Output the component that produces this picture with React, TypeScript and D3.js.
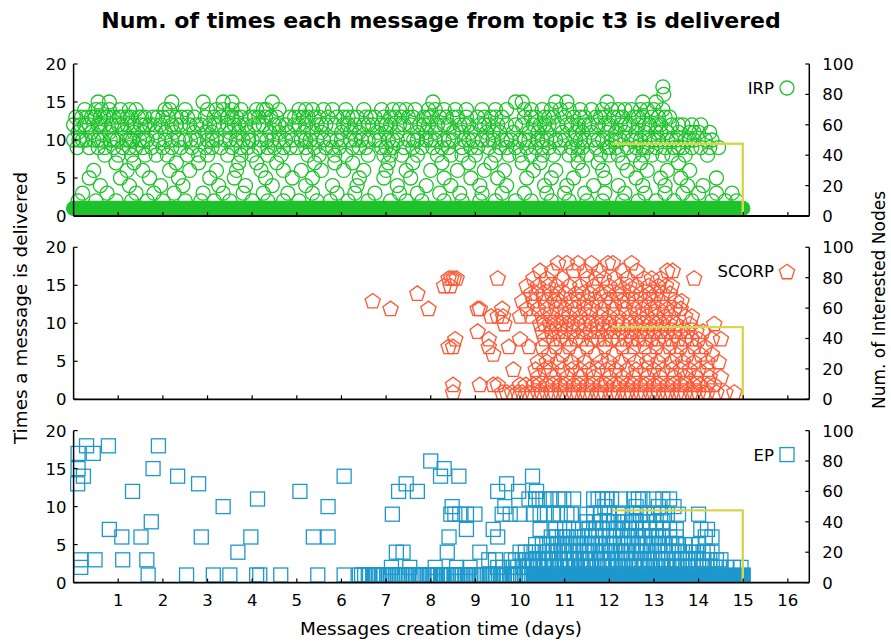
import React from "react";
import * as d3 from "d3";

const WIDTH = 891;
const HEIGHT = 642;
const FONT = "'DejaVu Sans', Verdana, sans-serif";

const titleText = "Num. of times each message from topic t3 is delivered";
const xLabel = "Messages creation time (days)";
const yLabelLeft = "Times a message is delivered";
const yLabelRight = "Num. of Interested Nodes";

const dayTicks = [1, 2, 3, 4, 5, 6, 7, 8, 9, 10, 11, 12, 13, 14, 15, 16];
const countTicks = [0, 5, 10, 15, 20];
const nodeTicks = [0, 20, 40, 60, 80, 100];

const protocolNames = ["IRP", "SCORP", "EP"];
const protocolColors = ["#1ec22b", "#ff5733", "#1e98cc"];
const protocolMarkers = ["circle", "pentagon", "square"];

// [times delivered, creation days of the messages delivered that many times]
type Row = [number, number[]];

const irpRows: Row[] = [
  [17, [13.2]],
  [16, [13.22]],
  [15, [0.55, 0.8, 2.2, 2.9, 3.35, 3.55, 4.45, 8.05, 9.9, 10.05, 10.8, 11.05, 11.95, 12.75, 13.05]],
  [14, [0.25, 0.5, 0.62, 1.05, 1.4, 2.05, 2.15, 3.2, 3.35, 3.75, 4.1, 4.25, 4.32, 5.05, 5.35, 5.6, 5.8, 6.9, 7.15, 7.45, 7.65, 7.95, 8.3, 8.55, 9.15, 9.45, 10.25, 10.5, 10.9, 11.35, 11.6, 12.2, 12.5, 12.85, 13.2,
    0.8, 1.25, 2.5, 3.0, 3.55, 4.6, 5.2, 6.1, 6.5, 7.3, 8.1, 8.8, 9.7, 10.1, 10.7, 11.1, 11.85, 12.05, 12.35, 12.7, 13.0]],
  [13, [0.05, 0.18, 0.3, 0.48, 0.6, 0.75, 0.9, 1.1, 1.28, 1.45, 1.6, 1.78, 2.0, 2.12, 2.3, 2.55, 2.95, 3.15, 3.3, 3.55, 3.75, 3.95, 4.15, 4.3, 4.55, 4.85, 5.05, 5.25, 5.5, 5.7, 5.9, 6.15, 6.35, 6.55, 6.75, 6.95, 7.2, 7.35, 7.6, 7.85, 8.0, 8.2, 8.35, 8.6, 8.8, 9.05, 9.2, 9.6, 10.1, 10.35, 10.55, 10.75, 11.0, 11.2, 11.45, 11.7, 11.9, 12.1, 12.3, 12.55, 12.75, 12.95, 13.1, 13.35,
    0.4, 0.68, 1.02, 1.2, 1.52, 1.88, 2.42, 2.7, 3.45, 3.65, 4.05, 4.42, 4.95, 5.15, 5.4, 6.05, 6.25, 6.65, 7.1, 7.5, 7.95, 8.5, 9.35, 9.45, 10.25, 10.65, 11.35, 11.8, 12.2, 12.65, 13.25]],
  [12, [0.0, 0.15, 0.35, 0.55, 0.7, 0.85, 1.0, 1.2, 1.35, 1.5, 1.7, 1.95, 2.2, 2.4, 2.6, 2.85, 3.05, 3.25, 3.45, 3.6, 3.85, 4.05, 4.25, 4.5, 4.75, 4.95, 5.2, 5.45, 5.65, 5.85, 6.05, 6.3, 6.5, 6.7, 6.9, 7.1, 7.3, 7.55, 7.75, 7.95, 8.15, 8.4, 8.65, 8.85, 9.1, 9.3, 9.7, 10.05, 10.3, 10.45, 10.65, 10.85, 11.05, 11.3, 11.55, 11.75, 12.0, 12.25, 12.45, 12.65, 12.9, 13.15, 13.4, 13.65, 14.05,
    0.25, 0.6, 1.08, 1.6, 1.82, 2.3, 2.75, 3.15, 3.7, 4.15, 4.6, 5.05, 5.55, 6.15, 6.6, 7.0, 7.4, 7.85, 8.3, 8.75, 9.2, 9.5, 9.9, 10.55, 11.15, 11.45, 11.9, 12.35, 12.8, 13.05, 13.55, 13.85]],
  [11, [0.1, 0.4, 0.8, 1.15, 1.55, 1.85, 2.25, 2.7, 3.1, 3.5, 3.9, 4.4, 4.8, 5.15, 5.55, 6.0, 6.4, 6.8, 7.25, 7.7, 8.1, 8.5, 8.9, 9.25, 9.55, 9.85, 10.2, 10.6, 10.95, 11.25, 11.6, 11.95, 12.35, 12.6, 12.8, 13.05, 13.3, 13.55, 13.8, 14.0, 14.25,
    0.6, 1.35, 2.05, 2.95, 3.7, 4.6, 5.35, 6.2, 7.0, 7.9, 8.7, 9.4, 10.4, 11.4, 12.15, 13.15, 13.9]],
  [10, [0.0, 0.12, 0.28, 0.45, 0.65, 0.82, 0.98, 1.18, 1.32, 1.48, 1.65, 1.9, 2.05, 2.35, 2.5, 2.75, 3.0, 3.2, 3.4, 3.65, 3.8, 4.0, 4.2, 4.45, 4.6, 4.9, 5.1, 5.3, 5.6, 5.75, 6.0, 6.2, 6.45, 6.6, 6.85, 7.05, 7.25, 7.5, 7.7, 7.9, 8.1, 8.3, 8.5, 8.75, 8.95, 9.15, 9.4, 9.6, 9.8, 10.0, 10.2, 10.4, 10.6, 10.8, 11.0, 11.25, 11.45, 11.65, 11.85, 12.05, 12.25, 12.5, 12.7, 12.9, 13.1, 13.3, 13.5, 13.7, 13.9, 14.15, 14.3,
    0.2, 0.55, 0.9, 1.25, 1.56, 2.2, 2.62, 3.1, 3.5, 3.92, 4.33, 4.75, 5.2, 5.45, 5.9, 6.32, 6.75, 7.15, 7.62, 8.0, 8.4, 8.85, 9.28, 9.7, 10.1, 10.5, 10.9, 11.35, 11.75, 12.15, 12.6, 13.0, 13.4, 13.8]],
  [9, [0.08, 0.35, 0.55, 0.9, 1.1, 1.4, 1.75, 2.0, 2.4, 2.65, 2.95, 3.3, 3.55, 3.9, 4.15, 4.5, 4.7, 5.0, 5.4, 5.65, 5.95, 6.25, 6.55, 6.9, 7.15, 7.4, 7.8, 8.05, 8.4, 8.7, 9.05, 9.3, 9.55, 9.9, 10.15, 10.35, 10.65, 10.9, 11.15, 11.4, 11.7, 11.95, 12.15, 12.4, 12.6, 12.85, 13.05, 13.25, 13.45, 13.65, 13.85, 14.05, 14.25, 14.45,
    0.7, 1.25, 1.55, 2.2, 3.1, 3.75, 4.35, 4.85, 5.2, 5.8, 6.4, 7.0, 7.6, 8.25, 8.9, 9.7, 10.5, 11.3, 12.0, 12.75, 13.55]],
  [8, [0.7, 1.0, 1.3, 1.6, 2.1, 2.55, 3.0, 3.45, 3.75, 4.35, 4.65, 5.25, 5.5, 6.1, 6.6, 6.95, 7.35, 7.7, 8.15, 8.45, 9.0, 9.45, 9.75, 10.25, 10.5, 10.75, 11.1, 11.5, 11.8, 12.2, 12.55, 12.95, 13.4, 13.7, 14.2,
    1.85, 2.8, 4.0, 5.85, 7.1, 8.7, 10.0, 11.3, 12.0, 12.75, 13.2]],
  [7, [0.95, 1.35, 2.3, 2.8, 3.7, 4.1, 4.55, 5.4, 5.85, 6.25, 7.05, 7.6, 8.25, 8.85, 9.35, 10.05, 10.45, 11.3, 11.75, 12.3, 12.7, 13.55]],
  [6, [0.45, 1.2, 1.55, 2.15, 2.6, 3.2, 3.65, 4.2, 4.7, 5.1, 5.55, 6.05, 6.5, 7.0, 7.45, 8.0, 8.6, 9.2, 9.65, 10.3, 10.8, 11.4, 11.85, 12.4, 12.85, 13.3, 13.8]],
  [5, [0.35, 1.05, 1.7, 2.35, 3.05, 3.6, 4.3, 4.9, 5.35, 6.4, 6.95, 7.55, 8.3, 8.9, 9.5, 10.15, 10.7, 11.2, 11.9, 12.6, 13.15, 13.6, 14.4]],
  [4, [0.6, 1.25, 1.95, 2.45, 3.25, 3.85, 4.45, 5.2, 5.8, 6.35, 7.25, 7.9, 8.45, 9.1, 9.7, 10.55, 11.05, 11.65, 12.2, 12.75, 13.25, 13.75, 14.1]],
  [3, [0.2, 0.75, 1.4, 1.8, 2.25, 2.9, 3.35, 3.8, 4.25, 4.8, 5.35, 5.9, 6.3, 6.75, 7.3, 7.7, 8.2, 8.65, 9.15, 9.6, 10.1, 10.6, 11.0, 11.45, 11.9, 12.35, 12.8, 13.25, 13.65, 14.0, 14.4, 14.75]],
  [2, [0.1, 0.5, 0.95, 1.3, 1.65, 2.0, 2.5, 2.85, 3.15, 3.5, 4.0, 4.35, 4.7, 5.05, 5.45, 5.75, 6.15, 6.6, 7.1, 7.45, 7.8, 8.3, 8.7, 9.1, 9.45, 9.9, 10.25, 10.7, 11.1, 11.5, 11.85, 12.3, 12.65, 13.05, 13.45, 13.85, 14.3, 14.6, 14.85]],
];

const scorpRows: Row[] = [
  [18, [10.85, 11.05, 11.3, 11.6, 11.97, 12.08, 12.5]],
  [17, [10.45, 10.72, 11.2, 11.45, 11.78, 12.3, 12.62, 13.3, 13.42]],
  [16, [8.4, 8.46, 8.52, 8.58, 9.5, 10.3, 10.6, 10.95, 11.5, 11.7, 11.88, 12.12, 12.4, 12.78, 12.95, 13.15, 13.9]],
  [15, [8.3, 8.44, 10.15, 10.4, 10.63, 10.82, 11.1, 11.35, 11.65, 12.0, 12.22, 12.45, 12.6, 12.88, 13.1, 13.27, 13.4]],
  [14, [7.7, 10.25, 10.37, 10.52, 10.7, 10.85, 11.02, 11.25, 11.4, 11.57, 11.8, 11.95, 12.17, 12.3, 12.52, 12.7, 12.9, 13.06, 13.2, 13.36]],
  [13, [6.7, 10.05, 10.3, 10.55, 10.77, 10.9, 11.15, 11.32, 11.5, 11.72, 11.9, 12.05, 12.27, 12.4, 12.6, 12.8, 13.0, 13.17, 13.5, 13.62]],
  [12, [7.1, 7.95, 9.05, 9.1, 9.6, 10.15, 10.4, 10.6, 10.82, 11.0, 11.22, 11.45, 11.6, 11.85, 12.1, 12.35, 12.57, 12.75, 12.95, 13.1, 13.3, 13.47, 13.6]],
  [11, [9.35, 9.5, 9.62, 10.0, 10.25, 10.5, 10.7, 10.95, 11.1, 11.35, 11.55, 11.8, 12.0, 12.2, 12.45, 12.67, 12.85, 13.05, 13.25, 13.4, 13.7, 13.85]],
  [10, [9.65, 10.45, 10.55, 10.67, 10.8, 10.92, 11.05, 11.17, 11.3, 11.45, 11.6, 11.72, 11.85, 12.0, 12.15, 12.3, 12.47, 12.6, 12.75, 12.9, 13.05, 13.2, 13.35, 13.5, 13.8, 14.35]],
  [9, [9.05, 10.5, 10.7, 10.87, 11.0, 11.2, 11.4, 11.57, 11.75, 11.95, 12.1, 12.3, 12.5, 12.7, 12.85, 13.0, 13.15, 13.3, 13.47, 13.6, 13.75, 13.95, 14.1]],
  [8, [8.55, 9.3, 10.0, 10.55, 10.75, 10.9, 11.05, 11.25, 11.4, 11.6, 11.75, 11.9, 12.05, 12.2, 12.37, 12.5, 12.65, 12.8, 12.95, 13.1, 13.25, 13.4, 13.55, 13.7, 13.85, 14.0, 14.3, 14.5]],
  [7, [8.4, 8.5, 9.3, 9.75, 10.2, 10.5, 10.8, 11.1, 11.5, 11.9, 12.3, 12.55, 12.8, 13.05, 13.35, 13.6, 13.9, 14.15]],
  [6, [9.4, 10.65, 10.95, 11.3, 11.7, 12.1, 12.45, 12.9, 13.2, 13.5, 13.75, 14.05, 14.3]],
  [5, [10.4, 10.6, 10.85, 11.15, 11.45, 11.8, 12.0, 12.25, 12.6, 12.85, 13.1, 13.4, 13.65, 13.9, 14.2, 14.45]],
  [4, [9.85, 10.35, 10.55, 10.7, 10.95, 11.15, 11.35, 11.55, 11.75, 11.95, 12.15, 12.4, 12.6, 12.8, 13.0, 13.2, 13.4, 13.6, 13.8, 14.0, 14.2]],
  [3, [10.4, 10.75, 11.05, 11.35, 11.65, 12.0, 12.3, 12.55, 12.85, 13.15, 13.45, 13.7, 13.95, 14.25, 14.5]],
  [2, [8.5, 9.1, 9.4, 9.5, 10.0, 10.13, 10.3, 10.42, 10.6, 10.73, 10.9, 11.02, 11.2, 11.33, 11.5, 11.62, 11.8, 11.93, 12.1, 12.22, 12.4, 12.53, 12.7, 12.82, 13.0, 13.12, 13.3, 13.43, 13.6, 13.72, 13.9, 14.03, 14.2, 14.35]],
  [1, [8.5, 9.6, 9.7, 9.82, 9.95, 10.05, 10.18, 10.27, 10.4, 10.48, 10.6, 10.7, 10.78, 10.9, 11.0, 11.12, 11.2, 11.3, 11.42, 11.5, 11.6, 11.73, 11.8, 11.9, 12.02, 12.1, 12.2, 12.33, 12.4, 12.5, 12.62, 12.7, 12.8, 12.92, 13.0, 13.1, 13.22, 13.3, 13.4, 13.52, 13.6, 13.7, 13.83, 13.9, 14.0, 14.12, 14.2, 14.4, 14.6, 14.8]],
];

const epRows: Row[] = [
  [18, [0.29, 0.78, 1.9]],
  [17, [0.1, 0.44]],
  [16, [8.0]],
  [15, [0.1, 1.78, 8.3]],
  [14, [0.22, 2.33, 6.06, 8.22, 8.63, 10.28]],
  [13, [0.09, 2.8, 7.45, 9.7]],
  [12, [1.32, 5.07, 7.28, 7.7, 9.5, 9.97, 10.37]],
  [11, [4.12, 10.2, 10.35, 10.43, 10.58, 10.7, 10.85, 10.98, 11.2, 11.65, 11.75, 11.85, 11.95, 12.05, 12.25, 12.55, 12.65, 12.75, 13.0, 13.2, 13.35]],
  [10, [3.35, 5.7, 8.48, 9.66, 11.9, 12.6, 13.1, 13.45]],
  [9, [7.14, 8.45, 8.54, 8.65, 8.8, 8.99, 9.6, 9.78, 10.0, 10.3, 10.45, 10.55, 10.75, 10.9, 11.05, 11.15, 11.5, 11.65, 11.8, 12.0, 12.2, 12.3, 12.55, 12.7, 12.85, 13.0, 13.15, 13.3, 13.55, 14.0]],
  [8, [1.74, 11.5, 11.65, 11.78, 11.95, 12.1, 12.2, 12.35, 12.5, 12.6, 12.75, 12.9, 13.05, 13.2]],
  [7, [0.8, 8.8, 9.4, 10.45, 10.8, 11.0, 11.2, 11.4, 11.55, 11.7, 11.85, 12.0, 12.15, 12.3, 12.45, 12.6, 12.75, 12.9, 13.05, 13.2, 13.35, 13.5, 14.05, 14.2]],
  [6, [1.08, 1.51, 2.86, 3.97, 5.37, 5.7, 8.41, 9.5, 10.7, 10.82, 10.95, 11.05, 11.2, 11.3, 11.45, 11.6, 11.7, 11.85, 12.0, 12.1, 12.25, 12.4, 12.5, 12.65, 12.8, 12.95, 13.1, 13.2, 13.35, 13.5, 14.15, 14.3]],
  [5, [10.35, 10.5, 10.6, 10.75, 10.85, 11.0, 11.1, 11.25, 11.35, 11.5, 11.62, 11.75, 11.85, 12.0, 12.12, 12.25, 12.35, 12.5, 12.62, 12.75, 12.85, 13.0, 13.12, 13.25, 13.4, 13.55, 13.7, 13.85, 14.0]],
  [4, [3.68, 7.23, 7.38, 8.37, 9.1, 10.0, 10.12, 10.25, 10.35, 10.5, 10.62, 10.72, 10.85, 10.97, 11.1, 11.2, 11.32, 11.45, 11.55, 11.68, 11.8, 11.9, 12.03, 12.15, 12.27, 12.38, 12.5, 12.6, 12.72, 12.85, 12.95, 13.08, 13.2, 13.32, 13.45, 13.57, 13.7, 13.82, 13.95, 14.1, 14.2, 14.3]],
  [3, [0.16, 0.48, 1.1, 1.64, 9.3, 9.45, 9.8, 9.9, 10.05, 10.15, 10.28, 10.4, 10.52, 10.63, 10.75, 10.88, 11.0, 11.1, 11.22, 11.35, 11.47, 11.58, 11.7, 11.83, 11.95, 12.05, 12.18, 12.3, 12.42, 12.55, 12.67, 12.78, 12.9, 13.02, 13.15, 13.27, 13.4, 13.5, 13.62, 13.75, 13.88, 14.0, 14.12, 14.25, 14.4, 14.5]],
  [2, [0.16, 7.12, 7.53, 8.1, 8.58, 8.88, 9.5, 9.62, 9.85, 9.95, 10.07, 10.2, 10.3, 10.42, 10.55, 10.65, 10.78, 10.9, 11.02, 11.13, 11.25, 11.38, 11.5, 11.6, 11.73, 11.85, 11.97, 12.08, 12.2, 12.33, 12.45, 12.57, 12.68, 12.8, 12.93, 13.05, 13.17, 13.28, 13.4, 13.52, 13.65, 13.77, 13.88, 14.0, 14.12, 14.25, 14.37, 14.5, 14.62, 14.78, 14.95]],
  [1, [1.67, 2.53, 3.13, 3.5, 4.1, 4.17, 4.64, 5.47, 6.06, 6.4, 6.45, 6.52, 6.6, 6.63, 6.7, 6.74, 6.78, 6.82, 6.86, 6.9, 6.95, 7.02, 7.06, 7.1, 7.15, 7.22, 7.26, 7.3, 7.36, 7.41, 7.45, 7.5, 7.58, 7.62, 7.66, 7.72, 7.76, 7.8, 7.85, 7.93, 7.97, 8.0, 8.07, 8.11, 8.15, 8.22, 8.26, 8.3, 8.35, 8.4, 8.45, 8.52, 8.56, 8.6, 8.66, 8.7, 8.78, 8.82, 8.85, 8.9, 8.95, 9.02, 9.06, 9.1, 9.15, 9.2, 9.28, 9.32, 9.35, 9.4, 9.45, 9.52, 9.56, 9.6, 9.65, 9.7, 9.78, 9.82, 9.85, 9.9, 9.95, 10.05, 10.1, 10.2]],
];

// Stretches where messages follow each other so closely that their markers
// merge into one solid band: [first day, last day, times delivered]
const irpRuns: [number, number, number][] = [[0, 14.99, 1]];
const scorpRuns: [number, number, number][] = [];
const epRuns: [number, number, number][] = [[10.3, 15.0, 1]];

// Interested nodes for topic t3 (right axis)
const nodeTimes = [12.07, 14.99, 14.99];
const nodeCounts = [47.5, 47.5, 0];

const seriesRows = [irpRows, scorpRows, epRows];
const seriesRuns = [irpRuns, scorpRuns, epRuns];

const LEFT = 73.6;
const RIGHT = 809.3;
const PANEL_TOP = 64;
const PANEL_HEIGHT = 152;
const PANEL_STEP = 183.3;

const CIRCLE_R = 7;
const SQUARE_HALF = 7;
const PENTA_R = 8;

const x = d3.scaleLinear().domain([0, 16.48]).range([LEFT, RIGHT]);

function pentagonPath(cx: number, cy: number, r: number) {
  const pts: [number, number][] = d3.range(5).map((k) => {
    const a = -Math.PI / 2 + (k * 2 * Math.PI) / 5;
    return [cx + r * Math.cos(a), cy + r * Math.sin(a) + 1];
  });
  return (d3.line()(pts) as string) + "Z";
}

function Marker({ kind, cx, cy, color }: { kind: string; cx: number; cy: number; color: string }) {
  const common = { fill: "none", stroke: color, strokeWidth: 1.3 };
  if (kind === "circle") return <circle cx={cx} cy={cy} r={CIRCLE_R} {...common} />;
  if (kind === "square")
    return <rect x={cx - SQUARE_HALF} y={cy - SQUARE_HALF} width={SQUARE_HALF * 2} height={SQUARE_HALF * 2} {...common} />;
  return <path d={pentagonPath(cx, cy, PENTA_R)} {...common} strokeLinejoin="miter" />;
}

function Panel({ index }: { index: number }) {
  const top = PANEL_TOP + index * PANEL_STEP;
  const bottom = top + PANEL_HEIGHT;
  const y = d3.scaleLinear().domain([0, 20]).range([bottom, top]);
  const yNodes = d3.scaleLinear().domain([0, 100]).range([bottom, top]);
  const color = protocolColors[index];
  const kind = protocolMarkers[index];
  const rows = seriesRows[index];
  const runs = seriesRuns[index];
  const half = kind === "circle" ? CIRCLE_R : SQUARE_HALF;

  const nodeLine = d3
    .line<number>()
    .x((_, i) => x(nodeTimes[i]))
    .y((_, i) => yNodes(nodeCounts[i]));
  const nodePath = nodeLine(nodeTimes) as string;

  const isBottom = index === protocolNames.length - 1;

  return (
    <g>
      {runs.map(([a, b, v], i) => (
        <rect
          key={"run" + i}
          x={x(a) - half}
          y={y(v) - half}
          width={x(b) - x(a) + 2 * half}
          height={2 * half}
          rx={kind === "circle" ? half : 0}
          fill={color}
          stroke={color}
          strokeWidth={1.3}
        />
      ))}
      {rows.map(([v, days]) =>
        days.map((d, j) => <Marker key={v + "-" + j} kind={kind} cx={x(d)} cy={y(v)} color={color} />)
      )}
      <path d={nodePath} fill="none" stroke="#e0e03a" strokeWidth={2.4} />
      <path d={nodePath} fill="none" stroke="#b8b8a0" strokeWidth={0.6} opacity={0.8} />

      {/* axes */}
      <line x1={LEFT} x2={LEFT} y1={top} y2={bottom} stroke="#000" strokeWidth={1.5} />
      <line x1={RIGHT} x2={RIGHT} y1={top} y2={bottom} stroke="#000" strokeWidth={1.5} />
      <line x1={LEFT} x2={RIGHT} y1={bottom} y2={bottom} stroke="#000" strokeWidth={1.8} />
      {countTicks.map((t) => (
        <g key={"l" + t}>
          <line x1={LEFT} x2={LEFT + 4} y1={y(t)} y2={y(t)} stroke="#000" strokeWidth={1.2} />
          <text x={LEFT - 7} y={y(t)} dy="0.36em" textAnchor="end" fontSize={16.5} fontFamily={FONT} fill="#000">
            {t}
          </text>
        </g>
      ))}
      {nodeTicks.map((t) => (
        <g key={"r" + t}>
          <line x1={RIGHT - 4} x2={RIGHT} y1={yNodes(t)} y2={yNodes(t)} stroke="#000" strokeWidth={1.2} />
          <text x={RIGHT + 13} y={yNodes(t)} dy="0.36em" textAnchor="start" fontSize={16.5} fontFamily={FONT} fill="#000">
            {t}
          </text>
        </g>
      ))}
      {dayTicks.map((t) => (
        <g key={"b" + t}>
          <line x1={x(t)} x2={x(t)} y1={bottom} y2={bottom - 4} stroke="#000" strokeWidth={1.2} />
          {isBottom && (
            <text x={x(t)} y={bottom + 23} textAnchor="middle" fontSize={16.5} fontFamily={FONT} fill="#000">
              {t}
            </text>
          )}
        </g>
      ))}

      {/* legend */}
      <text x={774} y={top + 24} dy="0.36em" textAnchor="end" fontSize={16.5} fontFamily={FONT} fill="#000">
        {protocolNames[index]}
      </text>
      <Marker kind={kind} cx={787} cy={top + 24} color={color} />
    </g>
  );
}

export default function App() {
  return (
    <svg
      width={WIDTH}
      height={HEIGHT}
      viewBox={`0 0 ${WIDTH} ${HEIGHT}`}
      style={{ position: "absolute", left: 0, top: 0, background: "#fff" }}
    >
      <rect width={WIDTH} height={HEIGHT} fill="#fff" />
      <text x={441} y={28} textAnchor="middle" fontSize={22} fontWeight="bold" fontFamily={FONT} fill="#000">
        {titleText}
      </text>
      {protocolNames.map((_, i) => (
        <Panel key={i} index={i} />
      ))}
      <text x={441} y={635} textAnchor="middle" fontSize={18.4} fontFamily={FONT} fill="#000">
        {xLabel}
      </text>
      <text
        transform={`translate(27,308) rotate(-90)`}
        textAnchor="middle"
        fontSize={18.4}
        fontFamily={FONT}
        fill="#000"
      >
        {yLabelLeft}
      </text>
      <text
        transform={`translate(885,300) rotate(-90)`}
        textAnchor="middle"
        fontSize={17}
        fontFamily={FONT}
        fill="#000"
      >
        {yLabelRight}
      </text>
    </svg>
  );
}
